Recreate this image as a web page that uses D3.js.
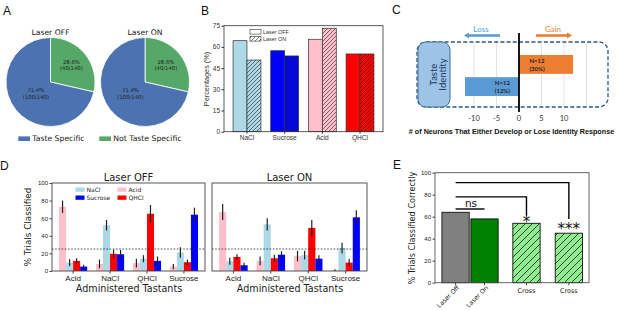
<!DOCTYPE html>
<html>
<head>
<meta charset="utf-8">
<script src="https://cdn.jsdelivr.net/npm/d3@7"></script>
<style>
  body { margin: 0; background: #fff; }
  svg { display: block; }
</style>
</head>
<body>
<div id="fig"></div>
<script>
// ---- Daten ----
// A: Anteil geschmacksspezifischer Neurone
const pieLabels = ["Not Taste Specific", "Taste Specific"];
const pieOff = [40, 100];
const pieOn = [40, 100];
const pieTitles = ["Laser OFF", "Laser ON"];
const legendA = ["Taste Specific", "Not Taste Specific"];

// B: Prozent pro Geschmack
const bTastes = ["NaCl", "Sucrose", "Acid", "QHCl"];
const bOff = [64.4, 57.3, 65.4, 55.0];
const bOn = [50.7, 53.6, 73.2, 55.0];
const bTicks = [0, 15, 30, 45, 60, 75];

// C: Gewinn / Verlust der Identitaet
const cRows = ["Gain", "Loss"];
const cValues = [12, -12];
const cCounts = ["N=12", "N=12"];
const cPct = ["(30%)", "(12%)"];
const cTicks = [-10, -5, 0, 5, 10];
const cGrid = [-10, -5, 5, 10, 15];

// D: Dekodierung (Zeilen = verabreichter Geschmack, Spalten = klassifiziert als)
const dTastants = ["Acid", "NaCl", "QHCl", "Sucrose"];
const dDecoded = ["Acid", "NaCl", "QHCl", "Sucrose"];
const dOffMean = [
  [73, 9.5, 11.5, 5],
  [8, 52, 19.5, 19],
  [9, 14, 65, 11.5],
  [5, 21, 10, 64]
];
const dOffErr = [
  [7, 4, 3, 2],
  [5, 6, 5, 5],
  [5, 4, 10, 5],
  [3, 6, 3, 8]
];
const dOnMean = [
  [67, 11, 16, 6.5],
  [11.5, 53, 14.5, 18.5],
  [17, 18, 49, 14],
  [1, 26, 9.5, 61]
];
const dOnErr = [
  [9, 4, 3, 3],
  [5, 7, 4, 4],
  [6, 5, 9, 4],
  [1, 6, 4, 8]
];
const dTicks = [0, 20, 40, 60, 80, 100];
const dChance = 25;
const dLegendOrder = ["NaCl", "Sucrose", "Acid", "QHCl"];

// E: korrekt klassifiziert
const eLabels = ["Laser Off", "Laser On", "Cross", "Cross"];
const eValues = [64, 58, 54, 45];
const eTicks = [0, 20, 40, 60, 80, 100];
const eSig = ["ns", "*", "***"];

// ---- Farben ----
const cBlueA = "#4c72b0", cGreenA = "#55a868";
const tasteColor = { NaCl: "#add8e6", Sucrose: "#0000ff", Acid: "#ffc0cb", QHCl: "#ff0000" };
const cLoss = "#5b9bd5", cGain = "#ed7d31";
const eColors = ["#808080", "#008000", "#90ee90", "#90ee90"];
const eHatched = [false, false, true, true];

const W = 617, H = 310;
const svg = d3.select("#fig").append("svg")
  .attr("width", W).attr("height", H)
  .style("font-family", "'DejaVu Sans', sans-serif");

const defs = svg.append("defs");
function hatch(id, s, color, sw) {
  const p = defs.append("pattern").attr("id", id)
    .attr("patternUnits", "userSpaceOnUse")
    .attr("width", s).attr("height", s);
  p.append("path")
    .attr("d", `M${-s / 4},${s / 4} l${s / 2},${-s / 2} M0,${s} l${s},${-s} M${s * 0.75},${s * 1.25} l${s / 2},${-s / 2}`)
    .attr("stroke", color).attr("stroke-width", sw);
}
hatch("hB", 4, "#222", 0.6);
hatch("hE", 7, "#1a1a1a", 0.8);

function panelLabel(t, x, y) {
  svg.append("text").attr("x", x).attr("y", y)
    .style("font-family", "'Liberation Sans', Arial, sans-serif")
    .style("font-size", "12px").attr("fill", "#111").text(t);
}

// ================= A =================
panelLabel("A", 3, 15);
const pieR = 44.5;
const pieGen = d3.pie().sort(null);
const arcA = d3.arc().innerRadius(0).outerRadius(pieR);
const pieColors = [cGreenA, cBlueA];

[pieOff, pieOn].forEach((vals, i) => {
  const g = svg.append("g").attr("transform", `translate(${50.5 + i * 94.5},82)`);
  const arcs = pieGen(vals);
  const total = d3.sum(vals);
  g.selectAll("path").data(arcs).join("path")
    .attr("d", arcA)
    .attr("fill", (d, j) => pieColors[j])
    .attr("stroke", "#fff").attr("stroke-width", 0.8);

  arcs.forEach((a, j) => {
    const r = pieR * (j === 0 ? 0.6 : 0.42);
    const m = (a.startAngle + a.endAngle) / 2;
    const x = r * Math.sin(m), y = -r * Math.cos(m);
    const t = g.append("text").attr("text-anchor", "middle")
      .style("font-size", "5.3px").attr("fill", "#222");
    t.append("tspan").attr("x", x).attr("y", y - 1.6)
      .text(`${(100 * vals[j] / total).toFixed(1)}%`);
    t.append("tspan").attr("x", x).attr("y", y + 4.9)
      .text(`(${vals[j]}/${total})`);
  });

  g.append("text").attr("y", -47).attr("text-anchor", "middle")
    .style("font-size", "7.7px").attr("fill", "#222").text(pieTitles[i]);
});

// Legende A
const legA = [[18.3, cBlueA], [99.3, cGreenA]];
legendA.forEach((lab, i) => {
  svg.append("rect").attr("x", legA[i][0]).attr("y", 136.4)
    .attr("width", 11.7).attr("height", 4.6).attr("fill", legA[i][1]);
  svg.append("text").attr("x", legA[i][0] + 14).attr("y", 141.3)
    .style("font-size", "7.7px").attr("fill", "#222").text(lab);
});

// ================= B =================
panelLabel("B", 201, 15);
const bFont = "'Liberation Sans', Arial, sans-serif";
const xB = d3.scaleBand().domain(bTastes).range([224, 383])
  .paddingInner(0.26).paddingOuter(0.24);
const xBs = d3.scaleBand().domain(["off", "on"]).range([0, xB.bandwidth()]);
const yB = d3.scaleLinear().domain([0, 75]).range([131.7, 25.7]);

const gB = svg.append("g").style("font-family", bFont);
bTastes.forEach((t, i) => {
  const x0 = xB(t);
  gB.append("rect").attr("x", x0 + xBs("off")).attr("y", yB(bOff[i]))
    .attr("width", xBs.bandwidth()).attr("height", yB(0) - yB(bOff[i]))
    .attr("fill", tasteColor[t]).attr("stroke", "#333").attr("stroke-width", 0.7);
  gB.append("rect").attr("x", x0 + xBs("on")).attr("y", yB(bOn[i]))
    .attr("width", xBs.bandwidth()).attr("height", yB(0) - yB(bOn[i]))
    .attr("fill", tasteColor[t]);
  gB.append("rect").attr("x", x0 + xBs("on")).attr("y", yB(bOn[i]))
    .attr("width", xBs.bandwidth()).attr("height", yB(0) - yB(bOn[i]))
    .attr("fill", "url(#hB)").attr("stroke", "#333").attr("stroke-width", 0.7);
});
gB.append("rect").attr("x", 224).attr("y", 25.7).attr("width", 159).attr("height", 106)
  .attr("fill", "none").attr("stroke", "#333").attr("stroke-width", 0.8);

const axB = gB.append("g").attr("transform", "translate(224,0)")
  .call(d3.axisLeft(yB).tickValues(bTicks).tickSize(2.5).tickPadding(1.5));
axB.select(".domain").remove();
axB.selectAll("line").attr("stroke", "#333");
axB.selectAll("text").style("font-size", "6.5px").attr("fill", "#333");

const axBx = gB.append("g").attr("transform", "translate(0,131.7)")
  .call(d3.axisBottom(xB).tickSize(2).tickPadding(1.5));
axBx.select(".domain").remove();
axBx.selectAll("line").attr("stroke", "#333");
axBx.selectAll("text").style("font-size", "6.6px").attr("fill", "#333");

gB.append("text").attr("transform", "translate(209,79) rotate(-90)")
  .attr("text-anchor", "middle").style("font-size", "7.3px").attr("fill", "#333")
  .text("Percentages (%)");

// Legende B
gB.append("rect").attr("x", 250).attr("y", 29.5).attr("width", 11).attr("height", 4.6)
  .attr("fill", "#fff").attr("stroke", "#333").attr("stroke-width", 0.6);
gB.append("rect").attr("x", 250).attr("y", 36.5).attr("width", 11).attr("height", 4.6)
  .attr("fill", "url(#hB)").attr("stroke", "#333").attr("stroke-width", 0.6);
gB.append("text").attr("x", 263).attr("y", 33.8).style("font-size", "5.4px").attr("fill", "#333").text("Laser OFF");
gB.append("text").attr("x", 263).attr("y", 40.8).style("font-size", "5.4px").attr("fill", "#333").text("Laser ON");

// ================= C =================
panelLabel("C", 392, 14);
const cFont = "Lato, 'Open Sans', sans-serif";
const xC = d3.scaleLinear().domain([-10, 10]).range([474, 564]);
const gC = svg.append("g").style("font-family", cFont);

cGrid.forEach(v => {
  gC.append("line").attr("x1", xC(v)).attr("x2", xC(v)).attr("y1", 43).attr("y2", 107)
    .attr("stroke", "#dcdcdc").attr("stroke-width", 0.8);
});

// gestrichelter Rahmen
gC.append("rect").attr("x", 417).attr("y", 42).attr("width", 191).attr("height", 65)
  .attr("rx", 9).attr("fill", "none").attr("stroke", "#2f5584")
  .attr("stroke-width", 1.3).attr("stroke-dasharray", "4,2.2");
gC.append("rect").attr("x", 418).attr("y", 42).attr("width", 32).attr("height", 65)
  .attr("rx", 8).attr("fill", "#9dc3e6").attr("stroke", "#41719c").attr("stroke-width", 1);
gC.append("text").attr("transform", "translate(437,74.5) rotate(-90)")
  .attr("text-anchor", "middle").style("font-size", "9.5px").attr("fill", "#203864").text("Taste");
gC.append("text").attr("transform", "translate(446,74.5) rotate(-90)")
  .attr("text-anchor", "middle").style("font-size", "9.5px").attr("fill", "#203864").text("Identity");

// Balken
const yC = d3.scaleBand().domain(cRows).range([55, 96]).paddingInner(0.15);
cRows.forEach((r, i) => {
  const v = cValues[i];
  gC.append("rect").attr("x", xC(Math.min(0, v))).attr("y", yC(r))
    .attr("width", Math.abs(xC(v) - xC(0))).attr("height", yC.bandwidth())
    .attr("fill", v > 0 ? cGain : cLoss);
  const tx = v > 0 ? xC(4) : xC(-3.7);
  const cy = yC(r) + yC.bandwidth() / 2;
  gC.append("text").attr("x", tx).attr("y", cy - 1.3).attr("text-anchor", "middle")
    .style("font-size", "6px").style("font-weight", "700").attr("fill", "#262626").text(cCounts[i]);
  gC.append("text").attr("x", tx).attr("y", cy + 6.2).attr("text-anchor", "middle")
    .style("font-size", "6px").style("font-weight", "700").attr("fill", "#262626").text(cPct[i]);
});

gC.append("line").attr("x1", xC(0)).attr("x2", xC(0)).attr("y1", 33).attr("y2", 112)
  .attr("stroke", "#000").attr("stroke-width", 1.8);

gC.selectAll(".ctick").data(cTicks).join("text")
  .attr("x", d => xC(d)).attr("y", 121).attr("text-anchor", "middle")
  .style("font-size", "7.5px").attr("fill", "#333")
  .text(d => d);

gC.append("text").attr("x", 511.5).attr("y", 133.5).attr("text-anchor", "middle")
  .style("font-family", bFont).style("font-size", "7.2px").style("font-weight", "700")
  .attr("fill", "#111").text("# of Neurons That Either Develop or Lose Identity Response");

// Pfeile
function arrow(x1, x2, y, color) {
  const dir = Math.sign(x2 - x1);
  gC.append("line").attr("x1", x1).attr("x2", x2 - dir * 4).attr("y1", y).attr("y2", y)
    .attr("stroke", color).attr("stroke-width", 2.6);
  gC.append("path").attr("d", `M${x2},${y} L${x2 - dir * 5},${y - 3} L${x2 - dir * 5},${y + 3} Z`)
    .attr("fill", color);
}
arrow(500, 464, 35.5, cLoss);
arrow(536, 572, 35.5, cGain);
gC.append("text").attr("x", 481).attr("y", 32).attr("text-anchor", "middle")
  .style("font-size", "8px").attr("fill", cLoss).text("Loss");
gC.append("text").attr("x", 553).attr("y", 32).attr("text-anchor", "middle")
  .style("font-size", "8px").attr("fill", cGain).text("Gain");

// ================= D =================
panelLabel("D", 0, 170);
const yD = d3.scaleLinear().domain([0, 100]).range([271, 183]);

function drawD(x0, x1, title, means, errs, first) {
  const g = svg.append("g");
  const xg = d3.scaleBand().domain(dTastants).range([x0, x1])
    .paddingInner(0.237).paddingOuter(0.19);
  const xs = d3.scaleBand().domain(dDecoded).range([0, xg.bandwidth()]);

  dTastants.forEach((t, i) => {
    dDecoded.forEach((c, j) => {
      const bx = xg(t) + xs(c);
      const v = means[i][j], e = errs[i][j];
      g.append("rect").attr("x", bx).attr("y", yD(v))
        .attr("width", xs.bandwidth()).attr("height", yD(0) - yD(v))
        .attr("fill", tasteColor[c]);
      g.append("line").attr("x1", bx + xs.bandwidth() / 2).attr("x2", bx + xs.bandwidth() / 2)
        .attr("y1", yD(Math.max(0, v - e))).attr("y2", yD(v + e))
        .attr("stroke", "#222").attr("stroke-width", 1.2);
    });
  });

  g.append("line").attr("x1", x0).attr("x2", x1).attr("y1", yD(dChance)).attr("y2", yD(dChance))
    .attr("stroke", "#222").attr("stroke-width", 0.8).attr("stroke-dasharray", "1.6,1.6");

  g.append("rect").attr("x", x0).attr("y", yD(100)).attr("width", x1 - x0)
    .attr("height", yD(0) - yD(100))
    .attr("fill", "none").attr("stroke", "#444").attr("stroke-width", 0.9);

  const ax = g.append("g").attr("transform", `translate(0,${yD(0)})`)
    .call(d3.axisBottom(xg).tickSize(2.5).tickPadding(1.5));
  ax.select(".domain").remove();
  ax.selectAll("line").attr("stroke", "#444");
  ax.selectAll("text").style("font-size", "8px").attr("fill", "#222");

  if (first) {
    const ay = g.append("g").attr("transform", `translate(${x0},0)`)
      .call(d3.axisLeft(yD).tickValues(dTicks).tickSize(2.5).tickPadding(1.5));
    ay.select(".domain").remove();
    ay.selectAll("line").attr("stroke", "#444");
    ay.selectAll("text").style("font-size", "6px").attr("fill", "#222");
  }

  g.append("text").attr("x", (x0 + x1) / 2).attr("y", 180.5).attr("text-anchor", "middle")
    .style("font-size", "10px").attr("fill", "#222").text(title);
  g.append("text").attr("x", (x0 + x1) / 2 + 0.5).attr("y", 292).attr("text-anchor", "middle")
    .style("font-size", "9.6px").attr("fill", "#222").text("Administered Tastants");
}
drawD(52, 205, "Laser OFF", dOffMean, dOffErr, true);
drawD(212, 367, "Laser ON", dOnMean, dOnErr, false);

svg.append("text").attr("transform", "translate(31,227) rotate(-90)")
  .attr("text-anchor", "middle").style("font-size", "8.8px").attr("fill", "#222")
  .text("% Trials Classified");

// Legende D
dLegendOrder.forEach((c, i) => {
  const lx = i < 2 ? 75.5 : 117.5;
  const ly = 187.5 + (i % 2) * 8;
  svg.append("rect").attr("x", lx).attr("y", ly).attr("width", 9).attr("height", 4.3)
    .attr("fill", tasteColor[c]);
  svg.append("text").attr("x", lx + 11).attr("y", ly + 4.6)
    .style("font-size", "6px").attr("fill", "#222").text(c);
});

// ================= E =================
panelLabel("E", 393, 169);
const eSlot = [0, 0.69, 1.69, 2.7];
const xE = d3.scaleLinear().domain([-0.49, 3.18]).range([435, 589]);
const yE = d3.scaleLinear().domain([0, 100]).range([282.7, 172.7]);
const eW = 0.65;
const gE = svg.append("g");

eValues.forEach((v, i) => {
  const bx = xE(eSlot[i] - eW / 2), bw = xE(eW) - xE(0);
  gE.append("rect").attr("x", bx).attr("y", yE(v)).attr("width", bw)
    .attr("height", yE(0) - yE(v)).attr("fill", eColors[i]);
  gE.append("rect").attr("x", bx).attr("y", yE(v)).attr("width", bw)
    .attr("height", yE(0) - yE(v))
    .attr("fill", eHatched[i] ? "url(#hE)" : "none")
    .attr("stroke", "#111").attr("stroke-width", 0.9);
});

gE.append("rect").attr("x", 435).attr("y", yE(100)).attr("width", 154)
  .attr("height", yE(0) - yE(100))
  .attr("fill", "none").attr("stroke", "#555").attr("stroke-width", 0.9);

const ayE = gE.append("g").attr("transform", "translate(435,0)")
  .call(d3.axisLeft(yE).tickValues(eTicks).tickSize(2.5).tickPadding(1.5));
ayE.select(".domain").remove();
ayE.selectAll("line").attr("stroke", "#444");
ayE.selectAll("text").style("font-size", "6px").attr("fill", "#222");

eLabels.forEach((lab, i) => {
  const cx = xE(eSlot[i]);
  gE.append("line").attr("x1", cx).attr("x2", cx).attr("y1", yE(0)).attr("y2", yE(0) + 2.5)
    .attr("stroke", "#444");
  if (i < 2) {
    gE.append("text").attr("transform", `translate(${cx + 4},${yE(0) + 5.5}) rotate(-45)`)
      .attr("text-anchor", "end").style("font-size", "6.3px").attr("fill", "#222").text(lab);
  } else {
    gE.append("text").attr("x", cx).attr("y", yE(0) + 10).attr("text-anchor", "middle")
      .style("font-size", "6.5px").attr("fill", "#222").text(lab);
  }
});

gE.append("text").attr("transform", "translate(415,228) rotate(-90)")
  .attr("text-anchor", "middle").style("font-size", "8.2px").attr("fill", "#222")
  .text("% Trials Classified Correctly");

// Signifikanz-Klammern
const sigLine = d3.line();
const x0E = xE(eSlot[0]);
gE.append("path").attr("d", sigLine([[x0E, yE(67)], [xE(eSlot[1]), yE(67)]]))
  .attr("fill", "none").attr("stroke", "#000").attr("stroke-width", 1.4);
gE.append("path").attr("d", sigLine([[x0E, yE(78)], [xE(eSlot[2]), yE(78)], [xE(eSlot[2]), yE(61)]]))
  .attr("fill", "none").attr("stroke", "#000").attr("stroke-width", 1.4);
gE.append("path").attr("d", sigLine([[x0E, yE(91)], [xE(eSlot[3]), yE(91)], [xE(eSlot[3]), yE(58)]]))
  .attr("fill", "none").attr("stroke", "#000").attr("stroke-width", 1.4);

gE.append("text").attr("x", (x0E + xE(eSlot[1])) / 2 + 1).attr("y", yE(68.5))
  .attr("text-anchor", "middle").style("font-size", "10.5px").attr("fill", "#111").text(eSig[0]);
gE.append("text").attr("x", xE(eSlot[2])).attr("y", yE(50.5))
  .attr("text-anchor", "middle").style("font-size", "15px").attr("fill", "#111").text(eSig[1]);
gE.append("text").attr("x", xE(eSlot[3])).attr("y", yE(44))
  .attr("text-anchor", "middle").style("font-size", "15px").attr("fill", "#111").text(eSig[2]);
</script>
</body>
</html>
